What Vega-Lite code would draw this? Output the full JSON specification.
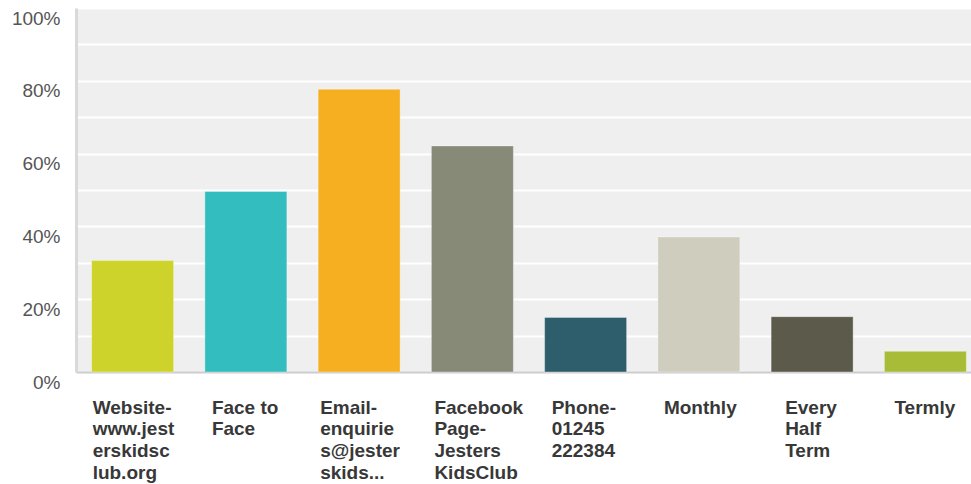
{
  "$schema": "https://vega.github.io/schema/vega-lite/v6.json",
  "autosize": "none",
  "width": 895,
  "height": 364,
  "padding": {"left": 76, "top": 8, "right": 0, "bottom": 112},
  "background": "white",
  "view": {"fill": "#efefef", "stroke": null},
  "data": {
    "values": [
      {"answer": "Website-www.jesterskidsclub.org", "pct": 0.306},
      {"answer": "Face to Face", "pct": 0.496},
      {"answer": "Email-enquiries@jesterskids...", "pct": 0.777},
      {"answer": "Facebook Page-Jesters KidsClub", "pct": 0.621},
      {"answer": "Phone-01245 222384", "pct": 0.150},
      {"answer": "Monthly", "pct": 0.371},
      {"answer": "Every Half Term", "pct": 0.152},
      {"answer": "Termly", "pct": 0.057}
    ]
  },
  "mark": {"type": "bar", "stroke": "white", "strokeOpacity": 0.35, "strokeWidth": 1},
  "encoding": {
    "x": {
      "field": "answer",
      "type": "nominal",
      "sort": null,
      "scale": {"range": [0, 906], "paddingInner": 0.276, "paddingOuter": 0.138},
      "axis": {
        "title": null,
        "ticks": false,
        "domainColor": "#cccccc",
        "domainWidth": 2,
        "labelAngle": 0,
        "labelAlign": "left",
        "labelBaseline": "top",
        "labelFont": "Liberation Sans",
        "labelFontWeight": "bold",
        "labelFontSize": 19,
        "labelLineHeight": 21.7,
        "labelColor": "#383838",
        "labelPadding": 26,
        "labelOverlap": false,
        "labelBound": false,
        "labelFlush": false,
        "labelLimit": 0,
        "labelOffset": {
          "condition": [
            {"test": "datum.value == 'Website-www.jesterskidsclub.org'", "value": -40},
            {"test": "datum.value == 'Face to Face'", "value": -34},
            {"test": "datum.value == 'Email-enquiries@jesterskids...'", "value": -39},
            {"test": "datum.value == 'Facebook Page-Jesters KidsClub'", "value": -38},
            {"test": "datum.value == 'Phone-01245 222384'", "value": -34},
            {"test": "datum.value == 'Monthly'", "value": -35},
            {"test": "datum.value == 'Every Half Term'", "value": -27}
          ],
          "value": -31
        },
        "labelExpr": "datum.value == 'Website-www.jesterskidsclub.org' ? ['Website-','www.jest','erskidsc','lub.org'] : datum.value == 'Face to Face' ? ['Face to','Face'] : datum.value == 'Email-enquiries@jesterskids...' ? ['Email-','enquirie','s@jester','skids...'] : datum.value == 'Facebook Page-Jesters KidsClub' ? ['Facebook','Page-','Jesters','KidsClub'] : datum.value == 'Phone-01245 222384' ? ['Phone-','01245','222384'] : datum.value == 'Every Half Term' ? ['Every','Half','Term'] : datum.label"
      }
    },
    "y": {
      "field": "pct",
      "type": "quantitative",
      "scale": {"domain": [0, 1], "nice": false},
      "axis": {
        "title": null,
        "values": [0, 0.1, 0.2, 0.3, 0.4, 0.5, 0.6, 0.7, 0.8, 0.9, 1],
        "labelExpr": "round(datum.value * 100) % 20 == 0 ? format(datum.value, '.0%') : ''",
        "ticks": false,
        "grid": true,
        "gridColor": "white",
        "gridWidth": 2,
        "domainColor": "#d9d9d9",
        "domainWidth": 3,
        "labelFont": "Liberation Sans",
        "labelFontSize": 19,
        "labelColor": "#555555",
        "labelPadding": 16,
        "labelOffset": 10,
        "labelBound": false,
        "labelFlush": false,
        "labelOverlap": false
      }
    },
    "color": {
      "field": "answer",
      "type": "nominal",
      "legend": null,
      "scale": {
        "domain": ["Website-www.jesterskidsclub.org", "Face to Face", "Email-enquiries@jesterskids...", "Facebook Page-Jesters KidsClub", "Phone-01245 222384", "Monthly", "Every Half Term", "Termly"],
        "range": ["#cdd32a", "#33bdbf", "#f6af20", "#878a77", "#2e5e6c", "#cfcdbe", "#5c5a4b", "#a8bc38"]
      }
    }
  }
}
